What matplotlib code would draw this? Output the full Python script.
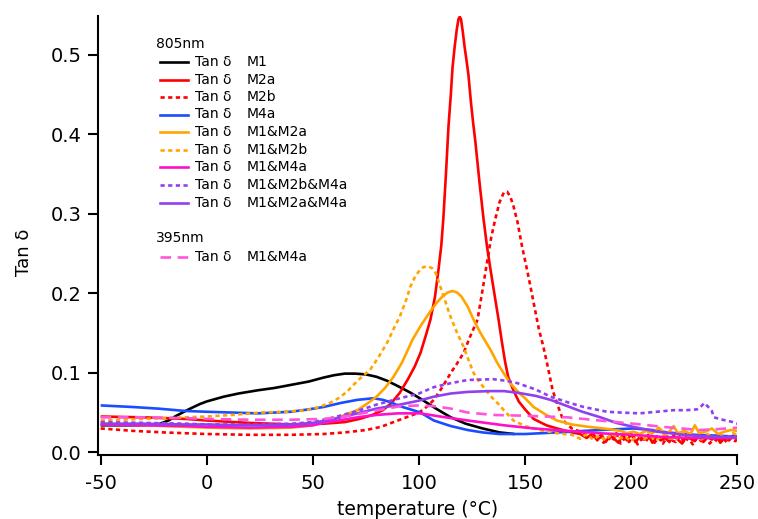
import matplotlib
matplotlib.use("Agg")
import matplotlib.pyplot as plt
from matplotlib.lines import Line2D

# ---------------- data ----------------
t_M1 = [-50,-40,-30,-23,-18,-15,-10,-7,-3,0,4,8,15,24,32,40,48,55,60,65,70,75,80,85,91,96,101,108,115,122,130,138,145]
y_M1 = [0.034,0.034,0.034,0.035,0.040,0.045,0.052,0.056,0.061,0.064,0.067,0.070,0.074,0.078,0.081,0.085,0.089,0.094,0.097,0.099,0.099,0.098,0.095,0.090,0.082,0.075,0.067,0.055,0.044,0.036,0.030,0.025,0.023]

t_M2a = [-50,-30,-10,0,20,40,55,65,72,78,83,87,91,95,98,100.7,103,105.4,107.5,109.2,110.5,111.5,112.7,113.9,115,115.8,116.8,117.8,118.6,119.2,119.8,120.6,121.5,122.3,123.3,124.5,125.5,126.6,128.5,130.4,132,133.7,135.5,137.5,139,140.5,142,144.5,147,150,154,160,165,172,176,
         179,182,184,186,188,190,192,194,196,198,200,202,204,206,208,210,212,214,216,218,220,222,224,226,228,230,232,234,236,238,240,242,244,246,248,250]
y_M2a = [0.045,0.044,0.042,0.040,0.037,0.035,0.036,0.038,0.042,0.047,0.053,0.062,0.075,0.093,0.108,0.125,0.145,0.167,0.195,0.23,0.26,0.295,0.35,0.41,0.45,0.484,0.51,0.532,0.545,0.548,0.545,0.53,0.51,0.495,0.475,0.44,0.415,0.39,0.34,0.294,0.26,0.23,0.20,0.167,0.14,0.115,0.095,0.078,0.064,0.054,0.042,0.034,0.030,0.025,0.023,
         0.018,0.024,0.015,0.022,0.013,0.021,0.017,0.012,0.022,0.015,0.023,0.013,0.019,0.016,0.022,0.012,0.020,0.015,0.018,0.013,0.021,0.016,0.011,0.020,0.017,0.014,0.022,0.013,0.019,0.016,0.021,0.012,0.018,0.015,0.021,0.016]

t_M2b = [-50,-35,-20,0,20,40,55,65,75,82,87,92,96,100,104,107,111,115,118,121,124,127.6,130,132.3,134,136,138,140,141.5,143,144.5,146.4,148.5,150.5,152.5,155,156.5,158.6,160.5,163,165.5,168,172,177,
         181,183,185,187,189,191,193,195,197,199,201,203,205,207,209,211,213,215,217,219,221,223,225,227,229,231,233,235,237,239,241,243,245,247,249,250]
y_M2b = [0.030,0.027,0.025,0.023,0.022,0.022,0.023,0.025,0.028,0.032,0.037,0.042,0.046,0.050,0.058,0.066,0.082,0.100,0.112,0.125,0.145,0.167,0.205,0.243,0.27,0.294,0.315,0.327,0.328,0.322,0.31,0.29,0.26,0.235,0.209,0.175,0.155,0.133,0.11,0.078,0.058,0.040,0.030,0.025,
         0.021,0.015,0.023,0.012,0.019,0.014,0.024,0.011,0.018,0.013,0.021,0.010,0.017,0.014,0.022,0.012,0.019,0.011,0.020,0.015,0.013,0.021,0.012,0.018,0.010,0.019,0.014,0.020,0.011,0.017,0.013,0.020,0.012,0.018,0.014,0.016]

t_M4a = [-50,-35,-23,-10,0,12,24,39.5,48,55,63,71,78.6,83,86.6,91,96,100.7,107,115,123,130,138,150,165,185,201,210,217,230,240,248,250]
y_M4a = [0.059,0.057,0.055,0.052,0.051,0.050,0.049,0.051,0.054,0.057,0.062,0.066,0.068,0.066,0.063,0.058,0.054,0.050,0.040,0.033,0.028,0.025,0.023,0.023,0.025,0.028,0.030,0.028,0.025,0.022,0.021,0.020,0.020]

t_M1M2a = [-50,-30,-10,0,20,40,50,58,64,71,76,80,84,88,92,97,101,105,108,111,113.5,115.8,118,120,123,125.7,129,133.7,137,141,143,147,150,154,160,165,172,180,190,
           195,198,201,204,207,210,213,216,218,220,222,225,228,230,232,235,238,241,244,247,250]
y_M1M2a = [0.036,0.034,0.032,0.031,0.030,0.031,0.034,0.040,0.046,0.053,0.062,0.070,0.081,0.095,0.113,0.142,0.16,0.176,0.187,0.196,0.201,0.203,0.201,0.196,0.183,0.167,0.15,0.129,0.112,0.095,0.087,0.075,0.068,0.057,0.047,0.040,0.035,0.032,0.029,
           0.027,0.024,0.026,0.023,0.027,0.024,0.031,0.023,0.026,0.033,0.024,0.027,0.023,0.034,0.024,0.026,0.030,0.023,0.026,0.028,0.027]

t_M1M2b = [-50,-30,-10,0,12,25,37,47,53,58,62,66,71,77,81,85,88,91,94,96,98,100,102,104.5,106.5,108,110,112,114.8,118,121,123.5,125.7,128,131,134,137,140,144.5,150,157,165,172,
           176,179,182,185,188,191,194,197,200,203,206,209,212,215,218,221,224,227,230,233,236,239,242,245,248,250]
y_M1M2b = [0.040,0.042,0.044,0.045,0.047,0.050,0.051,0.053,0.057,0.062,0.068,0.076,0.090,0.104,0.120,0.138,0.155,0.171,0.192,0.209,0.220,0.228,0.233,0.234,0.231,0.225,0.209,0.193,0.171,0.150,0.133,0.115,0.100,0.090,0.080,0.070,0.062,0.053,0.040,0.033,0.028,0.024,0.022,
           0.017,0.023,0.016,0.021,0.015,0.024,0.017,0.020,0.014,0.022,0.017,0.020,0.015,0.023,0.018,0.016,0.025,0.018,0.020,0.016,0.023,0.018,0.021,0.017,0.024,0.022]

t_M1M4a = [-50,-30,-10,0,20,40,50,55,62,71,80,90,100.7,110,123,140,154,170,185,200,217,230,250]
y_M1M4a = [0.035,0.034,0.033,0.032,0.031,0.032,0.034,0.037,0.040,0.044,0.047,0.049,0.049,0.045,0.040,0.034,0.030,0.027,0.024,0.022,0.019,0.018,0.018]

t_M1M2bM4a = [-50,-30,-10,0,20,40,50,60,71,80,91,100,107,115,123,135,141,146.4,155,162,170,177.6,188.7,195,204,212,220,226,231,233,234.5,236,238,239,243,248,250]
y_M1M2bM4a = [0.038,0.037,0.036,0.035,0.035,0.036,0.038,0.044,0.052,0.060,0.068,0.074,0.082,0.087,0.091,0.092,0.090,0.087,0.079,0.070,0.063,0.057,0.051,0.050,0.049,0.051,0.053,0.053,0.054,0.058,0.062,0.058,0.052,0.044,0.041,0.038,0.036]

t_M1M2aM4a = [-50,-30,-10,0,20,40,50,60,71,80,91,100,107,115,123,133,140,146.4,155,162,170,177,185.5,193,201,212,224.6,235,250]
y_M1M2aM4a = [0.036,0.036,0.035,0.035,0.034,0.035,0.037,0.042,0.049,0.055,0.060,0.065,0.070,0.074,0.076,0.077,0.077,0.075,0.071,0.066,0.058,0.051,0.044,0.037,0.032,0.026,0.022,0.020,0.019]

t_395 = [-50,-30,-10,0,20,40,55,65,75,85,91,100,107,115,123,135,150,170,185,201,215,232,240,250]
y_395 = [0.044,0.044,0.043,0.042,0.041,0.041,0.042,0.045,0.050,0.055,0.058,0.059,0.058,0.055,0.050,0.047,0.046,0.044,0.040,0.036,0.032,0.028,0.029,0.031]

xticks = [-50, 0, 50, 100, 150, 200, 250]
yticks = [0.0, 0.1, 0.2, 0.3, 0.4, 0.5]

C_BLACK = "#000000"
C_RED = "#ff0000"
C_BLUE = "#1a4dff"
C_ORANGE = "#ffa500"
C_MAG = "#ff10c8"
C_PURP = "#9040ee"
C_PINK = "#ff55dd"
DOT = (0, (1.6, 1.3))
DASH = (0, (4, 2.5))

series = [
    ("M1", t_M1, y_M1, C_BLACK, "-"),
    ("M2a", t_M2a, y_M2a, C_RED, "-"),
    ("M2b", t_M2b, y_M2b, C_RED, DOT),
    ("M4a", t_M4a, y_M4a, C_BLUE, "-"),
    ("M1&M2a", t_M1M2a, y_M1M2a, C_ORANGE, "-"),
    ("M1&M2b", t_M1M2b, y_M1M2b, C_ORANGE, DOT),
    ("M1&M4a", t_M1M4a, y_M1M4a, C_MAG, "-"),
    ("M1&M2b&M4a", t_M1M2bM4a, y_M1M2bM4a, C_PURP, DOT),
    ("M1&M2a&M4a", t_M1M2aM4a, y_M1M2aM4a, C_PURP, "-"),
]
series395 = [("M1&M4a", t_395, y_395, C_PINK, DASH)]

W, H = 758, 519
plt.rcParams['font.family'] = ['DejaVu Sans']
fig = plt.figure(figsize=(W / 100, H / 100), dpi=100)

def fx(px):
    return px / W

def fy(py):
    return 1 - py / H

LW = 1.9
left, right, top, bottom = 97.7, 737.3, 16, 455
ax = fig.add_axes([fx(left), fy(bottom), fx(right) - fx(left), (bottom - top) / H])

for name, t, y, c, ls in series + series395:
    ax.plot(t, y, color=c, linestyle=ls, linewidth=LW, solid_capstyle='butt')

ax.set_xlim(-51.4, 250)
ax.set_ylim(-0.0034, 0.549)
ax.spines['top'].set_visible(False)
ax.spines['right'].set_visible(False)
for s in ('left', 'bottom'):
    ax.spines[s].set_linewidth(1.5)
ax.set_xticks(xticks)
ax.set_xticklabels([str(v) for v in xticks])
ax.set_yticks(yticks)
ax.set_yticklabels([f"{v:.1f}" for v in yticks])
ax.tick_params(direction='out', length=7.5, width=1.5, labelsize=14, pad=4)
ax.tick_params(axis='x', pad=6)
ax.set_xlabel("temperature (°C)", fontsize=13.5, labelpad=5)

fig.text(fx(24), fy(252), "Tan δ", rotation=90, fontsize=13, ha='center', va='center')

# legend (manual, Igor-style)
lx0, lx1, tx, nx = 160, 188, 195, 247
fs = 10
fig.text(fx(156), fy(44), "805nm", fontsize=fs, ha='left', va='center')
ys = [62, 79.5, 97, 114.5, 132, 149.5, 167, 185, 203]
for (name, t, y, c, ls), yy in zip(series, ys):
    fig.add_artist(Line2D([fx(lx0), fx(lx1)], [fy(yy), fy(yy)], color=c, linestyle=ls, linewidth=LW, transform=fig.transFigure))
    fig.text(fx(tx), fy(yy), "Tan δ", fontsize=fs, ha='left', va='center')
    fig.text(fx(nx), fy(yy), name, fontsize=fs, ha='left', va='center')
fig.text(fx(156), fy(238), "395nm", fontsize=fs, ha='left', va='center')
for (name, t, y, c, ls), yy in zip(series395, [257]):
    fig.add_artist(Line2D([fx(lx0), fx(lx1)], [fy(yy), fy(yy)], color=c, linestyle=ls, linewidth=LW, transform=fig.transFigure))
    fig.text(fx(tx), fy(yy), "Tan δ", fontsize=fs, ha='left', va='center')
    fig.text(fx(nx), fy(yy), name, fontsize=fs, ha='left', va='center')

fig.savefig("out.png", dpi=100)
